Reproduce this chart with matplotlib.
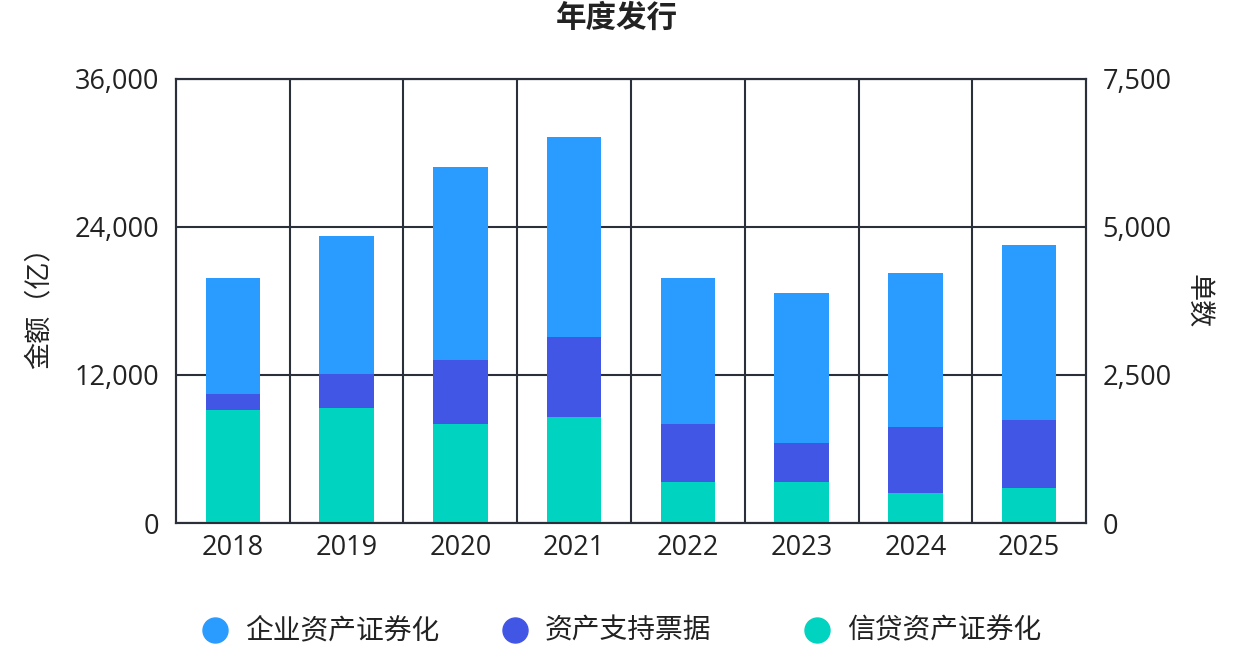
import matplotlib
matplotlib.use("Agg")
import matplotlib.pyplot as plt
from matplotlib.lines import Line2D
from matplotlib.ticker import FuncFormatter
import numpy as np

plt.rcParams['font.family'] = ['Noto Sans CJK SC', 'DejaVu Sans']

years = ['2018', '2019', '2020', '2021', '2022', '2023', '2024', '2025']
credit_abs = [9140, 9300, 8000, 8570, 3350, 3350, 2410, 2810]      # 信贷资产证券化
abn = [1300, 2780, 5220, 6490, 4680, 3160, 5400, 5570]             # 资产支持票据
corp_abs = [9460, 11200, 15630, 16220, 11870, 12120, 12470, 14140]  # 企业资产证券化

series_names = ['企业资产证券化', '资产支持票据', '信贷资产证券化']
colors = {'企业资产证券化': '#2A9BFF', '资产支持票据': '#4256E6', '信贷资产证券化': '#00D4C0'}

left_ticks = [0, 12000, 24000, 36000]
right_ticks = [0, 2500, 5000, 7500]

grid_c = '#2B2F3A'
num_font = ['Open Sans', 'Noto Sans CJK SC']

W, H = 1233, 651
fig = plt.figure(figsize=(W / 100, H / 100), dpi=100)
ax = fig.add_axes([0.1427, 0.1966, 0.7381, 0.6821])
x = np.arange(len(years))
w = 0.48
b1 = np.array(credit_abs)
b2 = b1 + np.array(abn)
ax.bar(x, credit_abs, w, color=colors['信贷资产证券化'], zorder=3)
ax.bar(x, abn, w, bottom=b1, color=colors['资产支持票据'], zorder=3)
ax.bar(x, corp_abs, w, bottom=b2, color=colors['企业资产证券化'], zorder=3)

ax.set_xlim(-0.5, len(years) - 0.5)
ax.set_ylim(0, 36000)
ax.set_yticks(left_ticks)
ax.yaxis.set_major_formatter(FuncFormatter(lambda v, p: f'{int(v):,}'))
ax.set_xticks(x)
ax.set_xticklabels(years)
ax.tick_params(axis='both', length=0, colors='#222222', pad=8)
ax.tick_params(axis='y', pad=12)
for lab in ax.get_xticklabels() + ax.get_yticklabels():
    lab.set_family(num_font)
    lab.set_fontsize(19.5)
for b in np.arange(0.5, len(years) - 0.5, 1.0):
    ax.axvline(b, color=grid_c, lw=1.5, zorder=2)
ax.yaxis.grid(True, color=grid_c, lw=1.5, zorder=2)
ax.set_axisbelow(False)
for s in ax.spines.values():
    s.set_color(grid_c)
    s.set_linewidth(1.5)
ax.set_ylabel('金额（亿）', fontsize=19.5, color='#222222', labelpad=16)

ax2 = ax.twinx()
ax2.set_ylim(0, 7500)
ax2.set_yticks(right_ticks)
ax2.yaxis.set_major_formatter(FuncFormatter(lambda v, p: f'{int(v):,}'))
ax2.tick_params(axis='y', length=0, colors='#222222', pad=12)
for lab in ax2.get_yticklabels():
    lab.set_family(num_font)
    lab.set_fontsize(19.5)
for s in ax2.spines.values():
    s.set_color(grid_c)
    s.set_linewidth(1.5)
ax2.set_ylabel('单数', fontsize=19.5, color='#222222', rotation=-90, labelpad=28)

fig.text(0.5, 0.972, '年度发行', ha='center', va='center', fontsize=22, fontweight='bold', color='#222222')

# legend items (manually placed to match reference spacing)
leg_y = 1 - 630 / H
for name, cx in zip(series_names, [215, 515, 817]):
    fig.add_artist(Line2D([cx / W], [leg_y], transform=fig.transFigure, marker='o', linestyle='none',
                          markersize=18, markerfacecolor=colors[name], markeredgecolor=colors[name]))
    fig.text((cx + 30) / W, leg_y, name, ha='left', va='center', fontsize=20, color='#222222')

fig.savefig('out.png', dpi=100)
